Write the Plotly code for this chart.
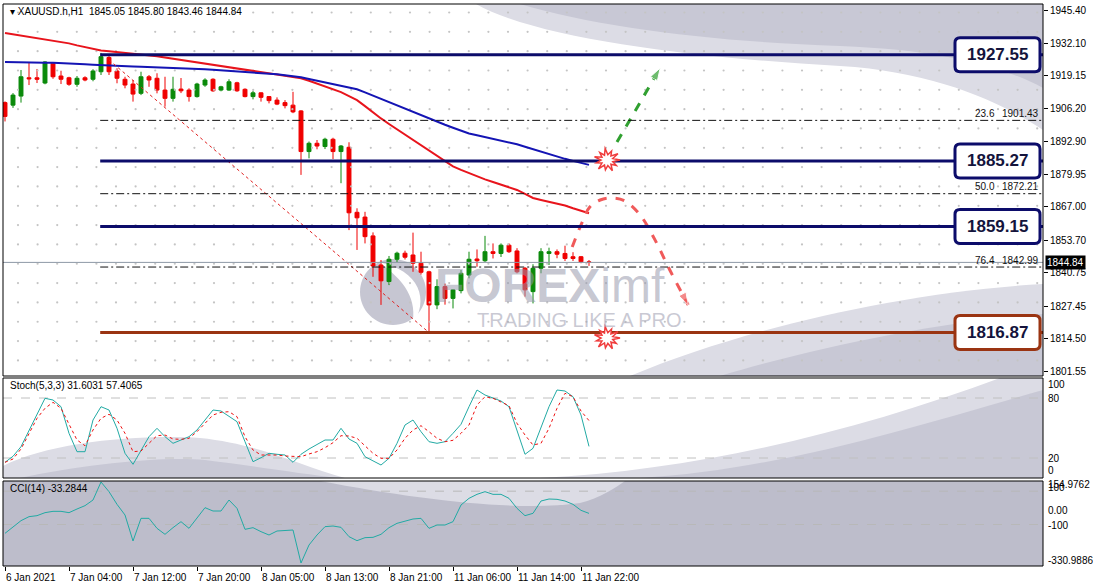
import numpy as np
import plotly.graph_objects as go

# ---------------- data ----------------
bars = list(range(74))
opens = [1908.5, 1907.5, 1911.1, 1918.4, 1918.4, 1916.3, 1924.2, 1919.1, 1918.4, 1915.8,
         1918.4, 1917.8, 1920.8, 1926.5, 1921.1, 1917.8, 1915.9, 1912.2, 1918.8, 1918.2,
         1913.5, 1910.2, 1913.9, 1913.5, 1910.9, 1915.5, 1917.8, 1913.5, 1913.5, 1916.4,
         1913.8, 1910.9, 1912.4, 1910.9, 1909.5, 1908.5, 1907.5, 1905.2, 1889.0, 1892.3,
         1891.0, 1893.9, 1889.0, 1890.7, 1864.8, 1862.9, 1855.4, 1843.8, 1837.2, 1846.1,
         1848.5, 1847.8, 1844.5, 1841.1, 1827.9, 1835.2, 1830.5, 1833.6, 1839.8, 1846.2,
         1845.5, 1849.1, 1848.4, 1851.7, 1849.4, 1842.5, 1833.2, 1842.5, 1848.4, 1849.1,
         1848.4, 1847.1, 1847.1, 1845.05]
highs = [1909.0, 1912.3, 1921.5, 1924.4, 1921.9, 1925.0, 1924.6, 1921.2, 1918.8, 1919.1,
         1919.0, 1921.8, 1928.3, 1927.1, 1922.2, 1918.8, 1917.5, 1920.8, 1919.5, 1920.2,
         1918.8, 1918.8, 1918.3, 1914.2, 1916.4, 1918.2, 1918.2, 1915.2, 1917.8, 1916.8,
         1914.2, 1913.2, 1912.6, 1911.1, 1910.6, 1909.5, 1912.8, 1905.5, 1893.0, 1893.6,
         1894.5, 1894.5, 1891.6, 1892.7, 1866.4, 1865.0, 1856.8, 1845.8, 1847.4, 1849.1,
         1849.5, 1856.7, 1849.1, 1841.5, 1838.1, 1836.4, 1834.2, 1841.8, 1849.1, 1850.0,
         1855.4, 1852.4, 1852.4, 1852.4, 1850.5, 1843.0, 1844.1, 1850.5, 1850.7, 1850.0,
         1851.5, 1848.9, 1847.4, 1845.80]
lows = [1901.0, 1906.4, 1908.5, 1915.5, 1916.3, 1915.8, 1918.0, 1915.9, 1915.2, 1914.8,
        1917.0, 1917.0, 1919.5, 1919.5, 1916.2, 1914.2, 1908.9, 1911.5, 1914.8, 1912.2,
        1906.9, 1908.9, 1912.3, 1908.9, 1910.5, 1914.8, 1912.8, 1913.0, 1913.2, 1912.8,
        1910.6, 1909.8, 1908.9, 1908.2, 1907.5, 1906.2, 1904.3, 1879.7, 1886.3, 1889.9,
        1890.0, 1886.0, 1876.4, 1857.7, 1849.8, 1852.4, 1839.1, 1827.9, 1835.8, 1845.0,
        1846.0, 1841.1, 1840.0, 1816.9, 1826.2, 1828.0, 1826.5, 1832.5, 1838.5, 1843.1,
        1845.0, 1846.4, 1847.0, 1848.6, 1840.5, 1831.2, 1828.5, 1840.5, 1843.8, 1846.5,
        1845.4, 1845.4, 1844.5, 1843.46]
closes = [1903.0, 1911.5, 1918.8, 1918.0, 1917.8, 1924.7, 1918.8, 1917.8, 1915.8, 1918.2,
          1917.5, 1921.1, 1926.8, 1920.8, 1918.2, 1915.5, 1911.9, 1918.8, 1917.5, 1913.5,
          1910.2, 1913.8, 1913.2, 1910.9, 1915.9, 1917.5, 1913.2, 1914.8, 1916.8, 1913.2,
          1910.9, 1912.4, 1910.6, 1909.3, 1907.9, 1907.3, 1904.8, 1889.0, 1892.3, 1891.2,
          1893.9, 1889.0, 1891.2, 1864.6, 1862.6, 1855.1, 1843.4, 1837.5, 1846.1, 1848.5,
          1846.9, 1844.5, 1840.9, 1827.9, 1835.2, 1830.5, 1833.9, 1840.5, 1846.1, 1845.5,
          1849.1, 1848.4, 1851.7, 1849.1, 1841.1, 1833.9, 1842.5, 1849.1, 1849.1, 1848.1,
          1846.4, 1846.4, 1845.1, 1844.84]
ma_red = [1936.2, 1935.7, 1935.2, 1934.7, 1934.2, 1933.7, 1933.2, 1932.6, 1932.1, 1931.3,
          1930.6, 1929.9, 1929.3, 1929.0, 1928.7, 1928.4, 1928.1, 1927.8, 1927.5, 1927.0,
          1926.5, 1926.0, 1925.5, 1925.0, 1924.5, 1924.0, 1923.5, 1923.0, 1922.5, 1922.1,
          1921.6, 1921.1, 1920.7, 1920.2, 1919.7, 1919.2, 1918.7, 1918.2, 1917.2, 1916.1,
          1915.1, 1914.0, 1912.7, 1911.1, 1909.5, 1907.1, 1904.6, 1902.2, 1900.0, 1897.9,
          1895.7, 1893.6, 1891.5, 1889.3, 1887.2, 1885.0, 1883.1, 1881.7, 1880.4, 1879.0,
          1877.9, 1876.9, 1875.9, 1875.0, 1873.7, 1872.1, 1870.5, 1869.7, 1869.0, 1868.3,
          1867.5, 1866.4, 1865.4, 1864.4]
ma_blue = [1924.7, 1924.6, 1924.6, 1924.5, 1924.5, 1924.4, 1924.4, 1924.3, 1924.2, 1924.0,
           1923.8, 1923.6, 1923.4, 1923.3, 1923.2, 1923.0, 1922.9, 1922.8, 1922.7, 1922.6,
           1922.5, 1922.3, 1922.2, 1922.1, 1921.9, 1921.8, 1921.6, 1921.4, 1921.2, 1921.0,
           1920.8, 1920.6, 1920.5, 1920.2, 1919.8, 1919.4, 1919.0, 1918.6, 1917.9, 1917.2,
           1916.6, 1915.8, 1915.2, 1914.5, 1913.8, 1912.6, 1911.3, 1909.9, 1908.5, 1907.2,
           1906.0, 1904.7, 1903.4, 1902.2, 1901.0, 1899.7, 1898.5, 1897.3, 1896.2, 1895.5,
           1894.8, 1894.1, 1893.4, 1892.8, 1891.9, 1890.9, 1889.9, 1888.9, 1887.8, 1886.8,
           1886.1, 1885.3, 1884.5, 1883.7]
stoch_main = [15.7, 21.7, 31.3, 48, 64.7, 79.7, 78, 71.3, 44.7, 26.3,
              26.3, 58, 71.3, 68, 49.7, 24.7, 13.7, 28, 41.3, 49.7,
              41.3, 34.7, 38, 41.3, 48, 58, 68, 67, 61.3, 56.3,
              36.3, 16.3, 20.3, 24.7, 23.7, 23, 15.7, 23.7, 29, 33.7,
              38, 38, 49.7, 39, 34.7, 21.3, 17, 13, 19.7, 34.7,
              53, 58, 46.3, 36.3, 34.7, 36.3, 44.7, 53.7, 71.3, 88,
              83, 79.7, 77, 71.3, 48, 23.7, 29.7, 49.7, 71.3, 88,
              87, 81.3, 63, 31.6031]
stoch_signal = [15.7, 19, 29, 43.7, 59.7, 69.7, 75.7, 69.7, 53, 38,
                32.3, 48, 59.7, 63.7, 58, 44.7, 26.3, 27, 34.7, 42.3,
                43, 39, 38.7, 39.7, 46.3, 54.7, 63, 65.7, 66.3, 61.3,
                41.3, 28, 23, 23, 23, 22, 21.3, 21.3, 24, 26.3,
                30.3, 35.3, 42.3, 42, 39.7, 32.3, 24.7, 19.7, 19.7, 28,
                39.7, 48, 52.3, 46.3, 39.7, 36.3, 37.7, 44.7, 53, 73,
                81.3, 79.7, 76.3, 72.3, 54.7, 43, 33, 34.7, 49.7, 69.7,
                84.7, 81.3, 67, 57.4065]
cci = [-153, -113, -77, -53, -47, -29, -21, -21, -29, -7,
       13, 47, 154.98, 97, 21, -43, -199, -63, -63, -123,
       -159, -119, -83, -123, -63, 1, -19, -19, 47, -3,
       -129, -119, -143, -163, -139, -135, -133, -330.99, -223, -163,
       -113, -109, -117, -173, -197, -179, -177, -159, -119, -93,
       -79, -67, -63, -123, -103, -103, -83, 17, 57, 81,
       97, 81, 81, 57, -3, -47, -33, 41, 53, 51,
       41, 21, -15, -33.28]

tick_bars = [0, 8, 16, 24, 32, 40, 48, 56, 64, 72]
tick_texts = ["6 Jan 2021", "7 Jan 04:00", "7 Jan 12:00", "7 Jan 20:00", "8 Jan 05:00",
              "8 Jan 13:00", "8 Jan 21:00", "11 Jan 06:00", "11 Jan 14:00", "11 Jan 22:00"]
price_ticks = [1945.40, 1932.10, 1919.15, 1906.20, 1892.90, 1879.95, 1867.00, 1853.70,
               1840.75, 1827.45, 1814.50, 1801.55]
sr_levels = [1927.55, 1885.27, 1859.15, 1816.87]
sr_colors = ["#0c0c6a", "#0c0c6a", "#0c0c6a", "#9a3412"]
fib_levels = [1901.43, 1872.21, 1842.99]
fib_names = ["23.6", "50.0", "76.4"]
last_price = 1844.84
level_start_bar = 11.9
trend_bars, trend_prices = [13, 53], [1925.5, 1816.9]
up_arrow_bars, up_arrow_prices = [76.5, 81.9], [1892.8, 1922.3]
down_curve_bars = [70.9, 72.1, 73.1, 74.4, 75.9, 77.5, 79.4, 81.25, 83.1, 85.4]
down_curve_prices = [1851.0, 1860.5, 1866.9, 1869.7, 1870.5, 1869.3, 1863.7, 1853.8, 1841.8, 1827.9]
burst_bar = 75.25
burst_prices = [1885.6, 1814.7]

# ---------------- geometry ----------------
W, H = 1093, 588
ML, MR, MT, MB = 3, 50, 4, 22
PW, PH = W - ML - MR, H - MT - MB
X_RANGE = [-0.25, 129.75]
Y1_RANGE = [1799.58, 1947.79]
Y2_RANGE = [0, 100]
Y3_RANGE = [-349, 161]
MAIN_TOP, MAIN_BOT = 4, 376
ST_TOP, ST_BOT = 378, 478
CCI_TOP, CCI_BOT = 481, 566


def px(x):
    return (x - ML) / PW


def py(y):
    return (H - MB - y) / PH


def price_pix(p):
    return MAIN_TOP + (Y1_RANGE[1] - p) / (Y1_RANGE[1] - Y1_RANGE[0]) * (MAIN_BOT - MAIN_TOP)


def bar_pix(b):
    return ML + (b - X_RANGE[0]) / (X_RANGE[1] - X_RANGE[0]) * PW


def P(x, y):
    return f"{px(x):.5f},{py(y):.5f}"


def svg(segs):
    out = []
    for s in segs:
        if s[0] == "Z":
            out.append("Z")
        else:
            out.append(s[0] + " ".join(P(*p) for p in s[1:]))
    return " ".join(out)


FONT = "Liberation Sans, Arial, DejaVu Sans"
shapes = []
annotations = []

LIGHT = "#dcdce5"
MID = "#c8c8d5"
DARK = "#bdbdcb"

# ---------------- watermark background swooshes ----------------
bg_paths = [
    # top right
    (LIGHT, [("M", (476, 4)), ("C", (540, 40), (700, 58), (840, 66)), ("C", (940, 72), (1005, 105), (1043, 130)),
             ("L", (1043, 4)), ("Z",)]),
    (MID, [("M", (520, 4)), ("C", (600, 28), (720, 42), (840, 46)), ("C", (950, 50), (1010, 70), (1043, 88)),
           ("L", (1043, 4)), ("Z",)]),
    # bottom right of main panel
    (LIGHT, [("M", (630, 376)), ("C", (740, 330), (900, 292), (1043, 284)), ("L", (1043, 376)), ("Z",)]),
    (MID, [("M", (720, 376)), ("C", (820, 346), (950, 320), (1043, 314)), ("L", (1043, 376)), ("Z",)]),
    # stoch left hump
    (LIGHT, [("M", (3, 466)), ("C", (50, 442), (140, 434), (200, 438)), ("C", (260, 444), (300, 466), (345, 478)),
             ("L", (3, 478)), ("Z",)]),
    (MID, [("M", (20, 478)), ("C", (80, 465), (160, 456), (205, 460)), ("C", (255, 466), (300, 474), (340, 478)),
           ("Z",)]),
    # stoch right
    (LIGHT, [("M", (540, 478)), ("C", (700, 470), (860, 430), (1000, 378)), ("L", (1043, 378)), ("L", (1043, 478)),
             ("Z",)]),
    (MID, [("M", (640, 478)), ("C", (780, 470), (920, 425), (1043, 390)), ("L", (1043, 478)), ("Z",)]),
    # CCI panel
    (DARK, [("M", (3, 481)), ("L", (1043, 481)), ("L", (1043, 566)), ("L", (3, 566)), ("Z",)]),
    (LIGHT, [("M", (320, 481)), ("C", (420, 500), (520, 512), (580, 503)), ("C", (600, 498), (615, 488), (625, 481)),
             ("Z",)]),
]
for col, segs in bg_paths:
    shapes.append(dict(type="path", xref="paper", yref="paper", path=svg(segs), fillcolor=col,
                       line=dict(width=0), layer="below"))

# logo disc
cx, cy, r = 393, 292, 33
k = 0.5523 * r
shapes.append(dict(type="path", xref="paper", yref="paper", layer="below", fillcolor="#c6c6d2", line=dict(width=0),
                   path=svg([("M", (cx + r, cy)), ("C", (cx + r, cy + k), (cx + k, cy + r), (cx, cy + r)),
                             ("C", (cx - k, cy + r), (cx - r, cy + k), (cx - r, cy)),
                             ("C", (cx - r, cy - k), (cx - k, cy - r), (cx, cy - r)),
                             ("C", (cx + k, cy - r), (cx + r, cy - k), (cx + r, cy)), ("Z",)])))
shapes.append(dict(type="path", xref="paper", yref="paper", layer="below", fillcolor="white", line=dict(width=0),
                   path=svg([("M", (378, 262)), ("C", (420, 270), (430, 300), (412, 326)),
                             ("C", (418, 300), (405, 280), (378, 262)), ("Z",)])))

# ---------------- figure ----------------
fig = go.Figure()

# dotted lattice of the background
gx = np.arange(1.625, 129.5, 2.45)
gy = np.arange(1944.4, 1799.8, -7.7)
GX, GY = np.meshgrid(gx, gy)
fig.add_trace(go.Scatter(x=GX.ravel(), y=GY.ravel(), mode="markers", xaxis="x", yaxis="y",
                         marker=dict(size=2.2, color="#c4c4c4"), hoverinfo="skip", showlegend=False))

# moving averages
fig.add_trace(go.Scatter(x=bars, y=ma_red, mode="lines", line=dict(color="#e8141c", width=2),
                         hoverinfo="skip", showlegend=False))
fig.add_trace(go.Scatter(x=bars, y=ma_blue, mode="lines", line=dict(color="#1414b4", width=2),
                         hoverinfo="skip", showlegend=False))

# candles
fig.add_trace(go.Candlestick(x=bars, open=opens, high=highs, low=lows, close=closes,
                             increasing=dict(line=dict(color="#0a8a0a", width=1), fillcolor="#0a8a0a"),
                             decreasing=dict(line=dict(color="#f00000", width=1), fillcolor="#f00000"),
                             whiskerwidth=0, hoverinfo="skip", showlegend=False))

# trend line (dotted red)
fig.add_trace(go.Scatter(x=trend_bars, y=trend_prices, mode="lines",
                         line=dict(color="#e02020", width=1, dash="dot"), hoverinfo="skip", showlegend=False))

# stochastic
fig.add_trace(go.Scatter(x=[X_RANGE[0], X_RANGE[1]], y=[80, 80], yaxis="y2", mode="lines",
                         line=dict(color="#c0c0c0", width=1, dash="dash"), hoverinfo="skip", showlegend=False))
fig.add_trace(go.Scatter(x=[X_RANGE[0], X_RANGE[1]], y=[20, 20], yaxis="y2", mode="lines",
                         line=dict(color="#c0c0c0", width=1, dash="dash"), hoverinfo="skip", showlegend=False))
fig.add_trace(go.Scatter(x=bars, y=stoch_main, yaxis="y2", mode="lines",
                         line=dict(color="#22aaa4", width=1), hoverinfo="skip", showlegend=False))
fig.add_trace(go.Scatter(x=bars, y=stoch_signal, yaxis="y2", mode="lines",
                         line=dict(color="#ee1111", width=1, dash="dot"), hoverinfo="skip", showlegend=False))

# CCI
for lv in (100, -100):
    fig.add_trace(go.Scatter(x=[X_RANGE[0], X_RANGE[1]], y=[lv, lv], yaxis="y3", mode="lines",
                             line=dict(color="#b8b8b8", width=1, dash="dash"), hoverinfo="skip", showlegend=False))
fig.add_trace(go.Scatter(x=bars, y=cci, yaxis="y3", mode="lines",
                         line=dict(color="#22aaa4", width=1), hoverinfo="skip", showlegend=False))

# ---------------- level lines ----------------
shapes.append(dict(type="line", xref="x", yref="y", x0=X_RANGE[0], x1=X_RANGE[1], y0=last_price, y1=last_price,
                   line=dict(color="#8d99a6", width=1), layer="above"))
for lv in fib_levels:
    shapes.append(dict(type="line", xref="x", yref="y", x0=level_start_bar, x1=X_RANGE[1], y0=lv, y1=lv,
                       line=dict(color="#111111", width=1, dash="8px,3px,2px,3px"), layer="above"))
for lv, col in zip(sr_levels, sr_colors):
    shapes.append(dict(type="line", xref="x", yref="y", x0=level_start_bar, x1=X_RANGE[1], y0=lv, y1=lv,
                       line=dict(color=col, width=3), layer="above"))

# boxes on the right
for lv, col in zip(sr_levels, sr_colors):
    yc = price_pix(lv)
    x0, x1, y0, y1, rr = 955, 1040, yc - 17, yc + 17, 5
    shapes.append(dict(type="path", xref="paper", yref="paper", fillcolor="white", layer="above",
                       line=dict(color=col, width=3),
                       path=svg([("M", (x0 + rr, y0)), ("L", (x1 - rr, y0)), ("Q", (x1, y0), (x1, y0 + rr)),
                                 ("L", (x1, y1 - rr)), ("Q", (x1, y1), (x1 - rr, y1)), ("L", (x0 + rr, y1)),
                                 ("Q", (x0, y1), (x0, y1 - rr)), ("L", (x0, y0 + rr)), ("Q", (x0, y0), (x0 + rr, y0)),
                                 ("Z",)])))
    annotations.append(dict(xref="paper", yref="y", x=px(997.5), y=lv, text=f"<b>{lv:.2f}</b>", showarrow=False,
                            font=dict(family=FONT, size=17, color="#14143c"), xanchor="center", yanchor="middle"))

for lv, nm in zip(fib_levels, fib_names):
    annotations.append(dict(xref="paper", yref="y", x=px(997), y=lv, text=nm, showarrow=False, yshift=7,
                            font=dict(family=FONT, size=10, color="#111111"), xanchor="right", yanchor="middle"))
    annotations.append(dict(xref="paper", yref="y", x=px(1041), y=lv, text=f"{lv:.2f}", showarrow=False, yshift=7,
                            font=dict(family=FONT, size=10, color="#111111"), xanchor="right", yanchor="middle"))


# starbursts
def burst(cx, cy):
    pts = []
    n = 11
    for i in range(2 * n):
        a = np.pi * i / n
        rad = (13 if i % 4 == 0 else 11) if i % 2 == 0 else 6
        pts.append((cx + rad * np.cos(a), cy + 0.9 * rad * np.sin(a)))
    segs = [("M", pts[0])] + [("L", p) for p in pts[1:]] + [("Z",)]
    return svg(segs)


for bp in burst_prices:
    shapes.append(dict(type="path", xref="paper", yref="paper", path=burst(bar_pix(burst_bar), price_pix(bp)),
                       fillcolor="white", line=dict(color="#f03c3c", width=1.5), layer="above"))

# forecast arrows
fig.add_trace(go.Scatter(x=up_arrow_bars, y=up_arrow_prices, mode="lines+markers",
                         line=dict(color="#30a030", width=3, dash="dash"),
                         marker=dict(symbol="arrow", size=[0, 13], angleref="previous", color="#30a030"),
                         hoverinfo="skip", showlegend=False))
fig.add_trace(go.Scatter(x=down_curve_bars, y=down_curve_prices, mode="lines+markers",
                         line=dict(color="#f05a5a", width=3, dash="dash", shape="spline"),
                         marker=dict(symbol="arrow", size=[0] * (len(down_curve_bars) - 1) + [13],
                                     angleref="previous", color="#f05a5a"),
                         hoverinfo="skip", showlegend=False))

# panel frames
for top, bot in ((MAIN_TOP, MAIN_BOT), (ST_TOP, ST_BOT), (CCI_TOP, CCI_BOT)):
    shapes.append(dict(type="rect", xref="paper", yref="paper", x0=px(3), x1=px(1043), y0=py(bot), y1=py(top),
                       line=dict(color="#000000", width=1), fillcolor="rgba(0,0,0,0)", layer="above"))

# ---------------- texts ----------------
annotations.append(dict(xref="paper", yref="paper", x=px(433), y=py(285), text="<b>FOREX</b>imf", showarrow=False,
                        font=dict(family=FONT, size=48, color="rgba(150,152,172,0.55)"), xanchor="left",
                        yanchor="middle"))
annotations.append(dict(xref="paper", yref="paper", x=px(579), y=py(320), text="TRADING LIKE A PRO",
                        showarrow=False, font=dict(family=FONT, size=20, color="rgba(165,165,182,0.6)"),
                        xanchor="center", yanchor="middle"))
annotations.append(dict(xref="paper", yref="paper", x=px(8), y=py(12),
                        text="▾ XAUUSD.h,H1  1845.05 1845.80 1843.46 1844.84", showarrow=False,
                        font=dict(family=FONT, size=10, color="#000000"), xanchor="left", yanchor="middle"))
annotations.append(dict(xref="paper", yref="paper", x=px(8), y=py(386), text="Stoch(5,3,3) 31.6031 57.4065",
                        showarrow=False, font=dict(family=FONT, size=10, color="#000000"), xanchor="left",
                        yanchor="middle"))
annotations.append(dict(xref="paper", yref="paper", x=px(8), y=py(489), text="CCI(14) -33.2844",
                        showarrow=False, font=dict(family=FONT, size=10, color="#000000"), xanchor="left",
                        yanchor="middle"))
# current price tag
annotations.append(dict(xref="paper", yref="y", x=1.0, y=last_price, text="1844.84", showarrow=False,
                        font=dict(family=FONT, size=10, color="white"), bgcolor="black", xanchor="left",
                        yanchor="middle", xshift=2, borderpad=1))
# sub-window scale labels
for txt, ypix in (("100", 384), ("80", 398), ("20", 458), ("0", 470), ("154.9762", 484), ("100", 487),
                  ("0.00", 510), ("-100", 525), ("-330.9886", 560)):
    annotations.append(dict(xref="paper", yref="paper", x=1.0, y=py(ypix), text=txt, showarrow=False,
                            font=dict(family=FONT, size=10, color="#000000"), xanchor="left", yanchor="middle",
                            xshift=3))
# time labels
for b, t in zip(tick_bars, tick_texts):
    annotations.append(dict(xref="x", yref="paper", x=b, y=py(577), text=t, showarrow=False,
                            font=dict(family=FONT, size=10, color="#000000"), xanchor="left", yanchor="middle",
                            xshift=-1))

fig.update_layout(
    width=W, height=H,
    margin=dict(l=ML, r=MR, t=MT, b=MB),
    paper_bgcolor="white", plot_bgcolor="white",
    showlegend=False,
    shapes=shapes, annotations=annotations,
    xaxis=dict(domain=[0, 1], range=X_RANGE, anchor="y3", showgrid=False, zeroline=False,
               rangeslider=dict(visible=False), tickmode="array", tickvals=tick_bars, ticktext=[""] * len(tick_bars),
               ticks="outside", ticklen=4, tickcolor="#000000", showline=False),
    yaxis=dict(domain=[py(MAIN_BOT), py(MAIN_TOP)], range=Y1_RANGE, side="right", anchor="x",
               tickmode="array", tickvals=price_ticks, ticktext=[f"{v:.2f}" for v in price_ticks],
               ticks="outside", ticklen=4, tickcolor="#000000", showgrid=False, zeroline=False,
               tickfont=dict(family=FONT, size=10, color="#000000")),
    yaxis2=dict(domain=[py(ST_BOT), py(ST_TOP)], range=Y2_RANGE, side="right", anchor="x", showgrid=False,
                zeroline=False, showticklabels=False),
    yaxis3=dict(domain=[py(CCI_BOT), py(CCI_TOP)], range=Y3_RANGE, side="right", anchor="x", showgrid=False,
                zeroline=False, showticklabels=False),
)

fig.write_html("out.html", config={"displayModeBar": False},
               post_script="document.body.style.margin='0px';document.body.style.overflow='hidden';")
